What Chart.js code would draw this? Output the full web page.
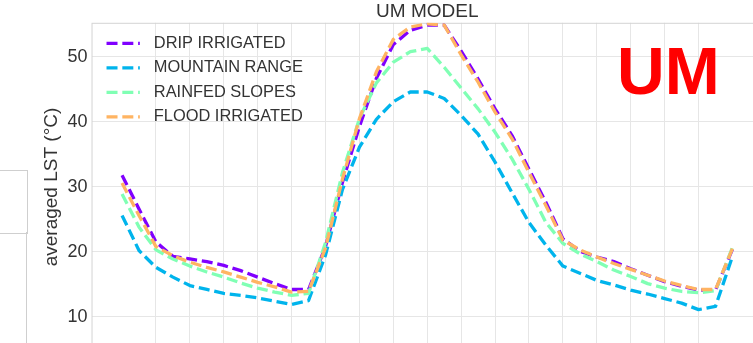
<!DOCTYPE html>
<html>
<head>
<meta charset="utf-8">
<script src="https://cdn.jsdelivr.net/npm/chart.js@4.4.1/dist/chart.umd.min.js"></script>
<style>
  html, body { margin: 0; padding: 0; background: #fff; overflow: hidden; }
  #wrap { position: absolute; left: 0; top: 0; width: 764px; height: 366px; }
  .edge { position: absolute; border: 1px solid #cfcfcf; }
</style>
</head>
<body>
<!-- edge of the neighbouring panel, cut off by the crop -->
<div class="edge" style="left:-5px; top:170px; width:31px; height:62px;"></div>
<div class="edge" style="left:26px; top:232px; width:0; height:130px; border-width:0 0 0 1px;"></div>
<div id="wrap"><canvas id="lstChart"></canvas></div>
<script>
// x positions (one grid step = 2 samples)
var hours = [0, 0.5, 1, 1.5, 2, 2.5, 3, 3.5, 4, 4.5, 5, 5.5, 6, 6.5, 7, 7.5, 8, 8.5, 9,
             9.5, 10, 10.5, 11, 11.5, 12, 12.5, 13, 13.5, 14, 14.5, 15, 15.5, 16, 16.5, 17, 17.5, 18];

var dripIrrigated = [31.8, 26.6, 21.5, 19.3, 18.9, 18.5, 17.9, 17.1, 16.1, 15.1, 14.2, 14.2, 20.8,
                     30.7, 39.3, 46.7, 51.9, 54.1, 54.9, 54.9, 50.9, 46.6, 42.0, 37.9, 32.7, 27.6,
                     22.0, 20.1, 19.2, 18.5, 17.4, 16.4, 15.4, 14.7, 14.1, 14.1, 20.4];
var mountainRange = [25.6, 20.2, 17.6, 16.1, 14.8, 14.2, 13.6, 13.3, 12.9, 12.4, 11.9, 12.5, 19.5,
                     29.6, 36.1, 40.4, 43.1, 44.6, 44.6, 43.6, 41.0, 38.1, 33.8, 29.1, 24.5, 21.0,
                     17.8, 16.7, 15.6, 14.9, 14.1, 13.5, 12.8, 12.1, 11.1, 11.6, 19.3];
var rainfedSlopes = [28.9, 23.8, 20.3, 18.9, 17.8, 16.9, 16.1, 15.2, 14.4, 13.8, 13.3, 13.6, 21.4,
                     32.2, 40.5, 46.0, 49.2, 50.8, 51.3, 48.4, 45.2, 42.0, 38.4, 34.3, 29.6, 24.5,
                     21.3, 19.7, 18.5, 17.2, 16.2, 15.1, 14.4, 13.9, 13.7, 14.0, 20.7];
var floodIrrigated = [30.6, 25.6, 20.8, 19.4, 18.4, 17.6, 16.9, 16.1, 15.3, 14.6, 13.8, 13.9, 20.6,
                      31.2, 40.5, 47.7, 52.7, 54.6, 55.1, 54.9, 50.3, 46.1, 41.5, 37.4, 32.2, 27.1,
                      21.8, 20.3, 19.2, 18.2, 17.3, 16.4, 15.5, 14.8, 14.2, 14.2, 20.5];

var seriesNames = ['DRIP IRRIGATED', 'MOUNTAIN RANGE', 'RAINFED SLOPES', 'FLOOD IRRIGATED'];
var seriesColors = ['#8000ff', '#00b4ec', '#80ffb4', '#ffb462'];
var seriesValues = [dripIrrigated, mountainRange, rainfedSlopes, floodIrrigated];

Chart.defaults.font.family = "'Liberation Sans', Arial, sans-serif";

// matplotlib-ish legend sitting inside the plot, upper left
var lineLegend = {
  id: 'lineLegend',
  afterDatasetsDraw: function(chart) {
    var a = chart.chartArea, ctx = chart.ctx;
    ctx.save();
    ctx.font = "16.4px 'Liberation Sans', Arial, sans-serif";
    ctx.textBaseline = 'middle';
    seriesNames.forEach(function(name, i) {
      var y = a.top + 20.6 + i * 24.5;
      ctx.strokeStyle = seriesColors[i];
      ctx.lineWidth = 3.3;
      ctx.setLineDash([11, 4.8]);
      ctx.beginPath();
      ctx.moveTo(a.left + 15, y);
      ctx.lineTo(a.left + 48.3, y);
      ctx.stroke();
      ctx.setLineDash([]);
      ctx.fillStyle = '#333';
      ctx.fillText(name, a.left + 62.3, y);
    });
    ctx.restore();
  }
};

// axes frame + big red model tag
var frame = {
  id: 'frame',
  beforeDatasetsDraw: function(chart) {
    var a = chart.chartArea, ctx = chart.ctx;
    ctx.save();
    ctx.strokeStyle = '#d4d4d4';
    ctx.lineWidth = 1;
    ctx.strokeRect(a.left + 0.5, a.top + 0.5, a.width, a.height);
    ctx.restore();
  },
  afterDraw: function(chart) {
    var ctx = chart.ctx;
    ctx.save();
    ctx.font = "bold 66px 'Liberation Sans', Arial, sans-serif";
    ctx.fillStyle = '#ff0000';
    ctx.textBaseline = 'alphabetic';
    ctx.fillText('UM', 617, 94);
    ctx.restore();
  }
};

var datasets = seriesNames.map(function(name, i) {
  return {
    label: name,
    data: hours.map(function(h, k) { return { x: h, y: seriesValues[i][k] }; }),
    borderColor: seriesColors[i],
    backgroundColor: seriesColors[i],
    borderWidth: 3.3,
    borderDash: [11, 4.8],
    borderJoinStyle: 'round',
    pointRadius: 0,
    tension: 0,
    fill: false,
    order: seriesNames.length - i // later series drawn on top
  };
});

var ctx = document.getElementById('lstChart').getContext('2d');
new Chart(ctx, {
  type: 'line',
  data: { datasets: datasets },
  options: {
    responsive: true,
    maintainAspectRatio: false,
    animation: false,
    layout: { padding: { left: 32.7, right: 1, top: 0, bottom: 0 } },
    plugins: {
      legend: { display: false },
      tooltip: { enabled: false },
      title: {
        display: true,
        fullSize: false, // centre over the plot, not the canvas
        text: 'UM MODEL',
        color: '#333',
        font: { size: 19, weight: 'normal' },
        padding: { top: 0, bottom: 0 }
      }
    },
    scales: {
      x: {
        type: 'linear',
        min: -0.9,
        max: 18.9,
        ticks: { display: false, stepSize: 1 },
        afterBuildTicks: function(axis) {
          axis.ticks = axis.ticks.filter(function(t) { return Number.isInteger(t.value); });
        },
        grid: { color: '#e6e6e6', drawTicks: false },
        border: { display: false }
      },
      y: {
        min: 4.7,
        max: 55.25,
        ticks: { stepSize: 10, color: '#333', font: { size: 18 }, padding: 4 },
        afterBuildTicks: function(axis) {
          axis.ticks = axis.ticks.filter(function(t) { return t.value % 10 === 0; });
        },
        grid: { color: '#e6e6e6', drawTicks: false },
        border: { display: false },
        title: {
          display: true,
          text: 'averaged LST (°C)',
          color: '#333',
          font: { size: 19 },
          padding: { top: 8, bottom: 0 }
        }
      }
    }
  },
  plugins: [frame, lineLegend]
});
</script>
</body>
</html>
